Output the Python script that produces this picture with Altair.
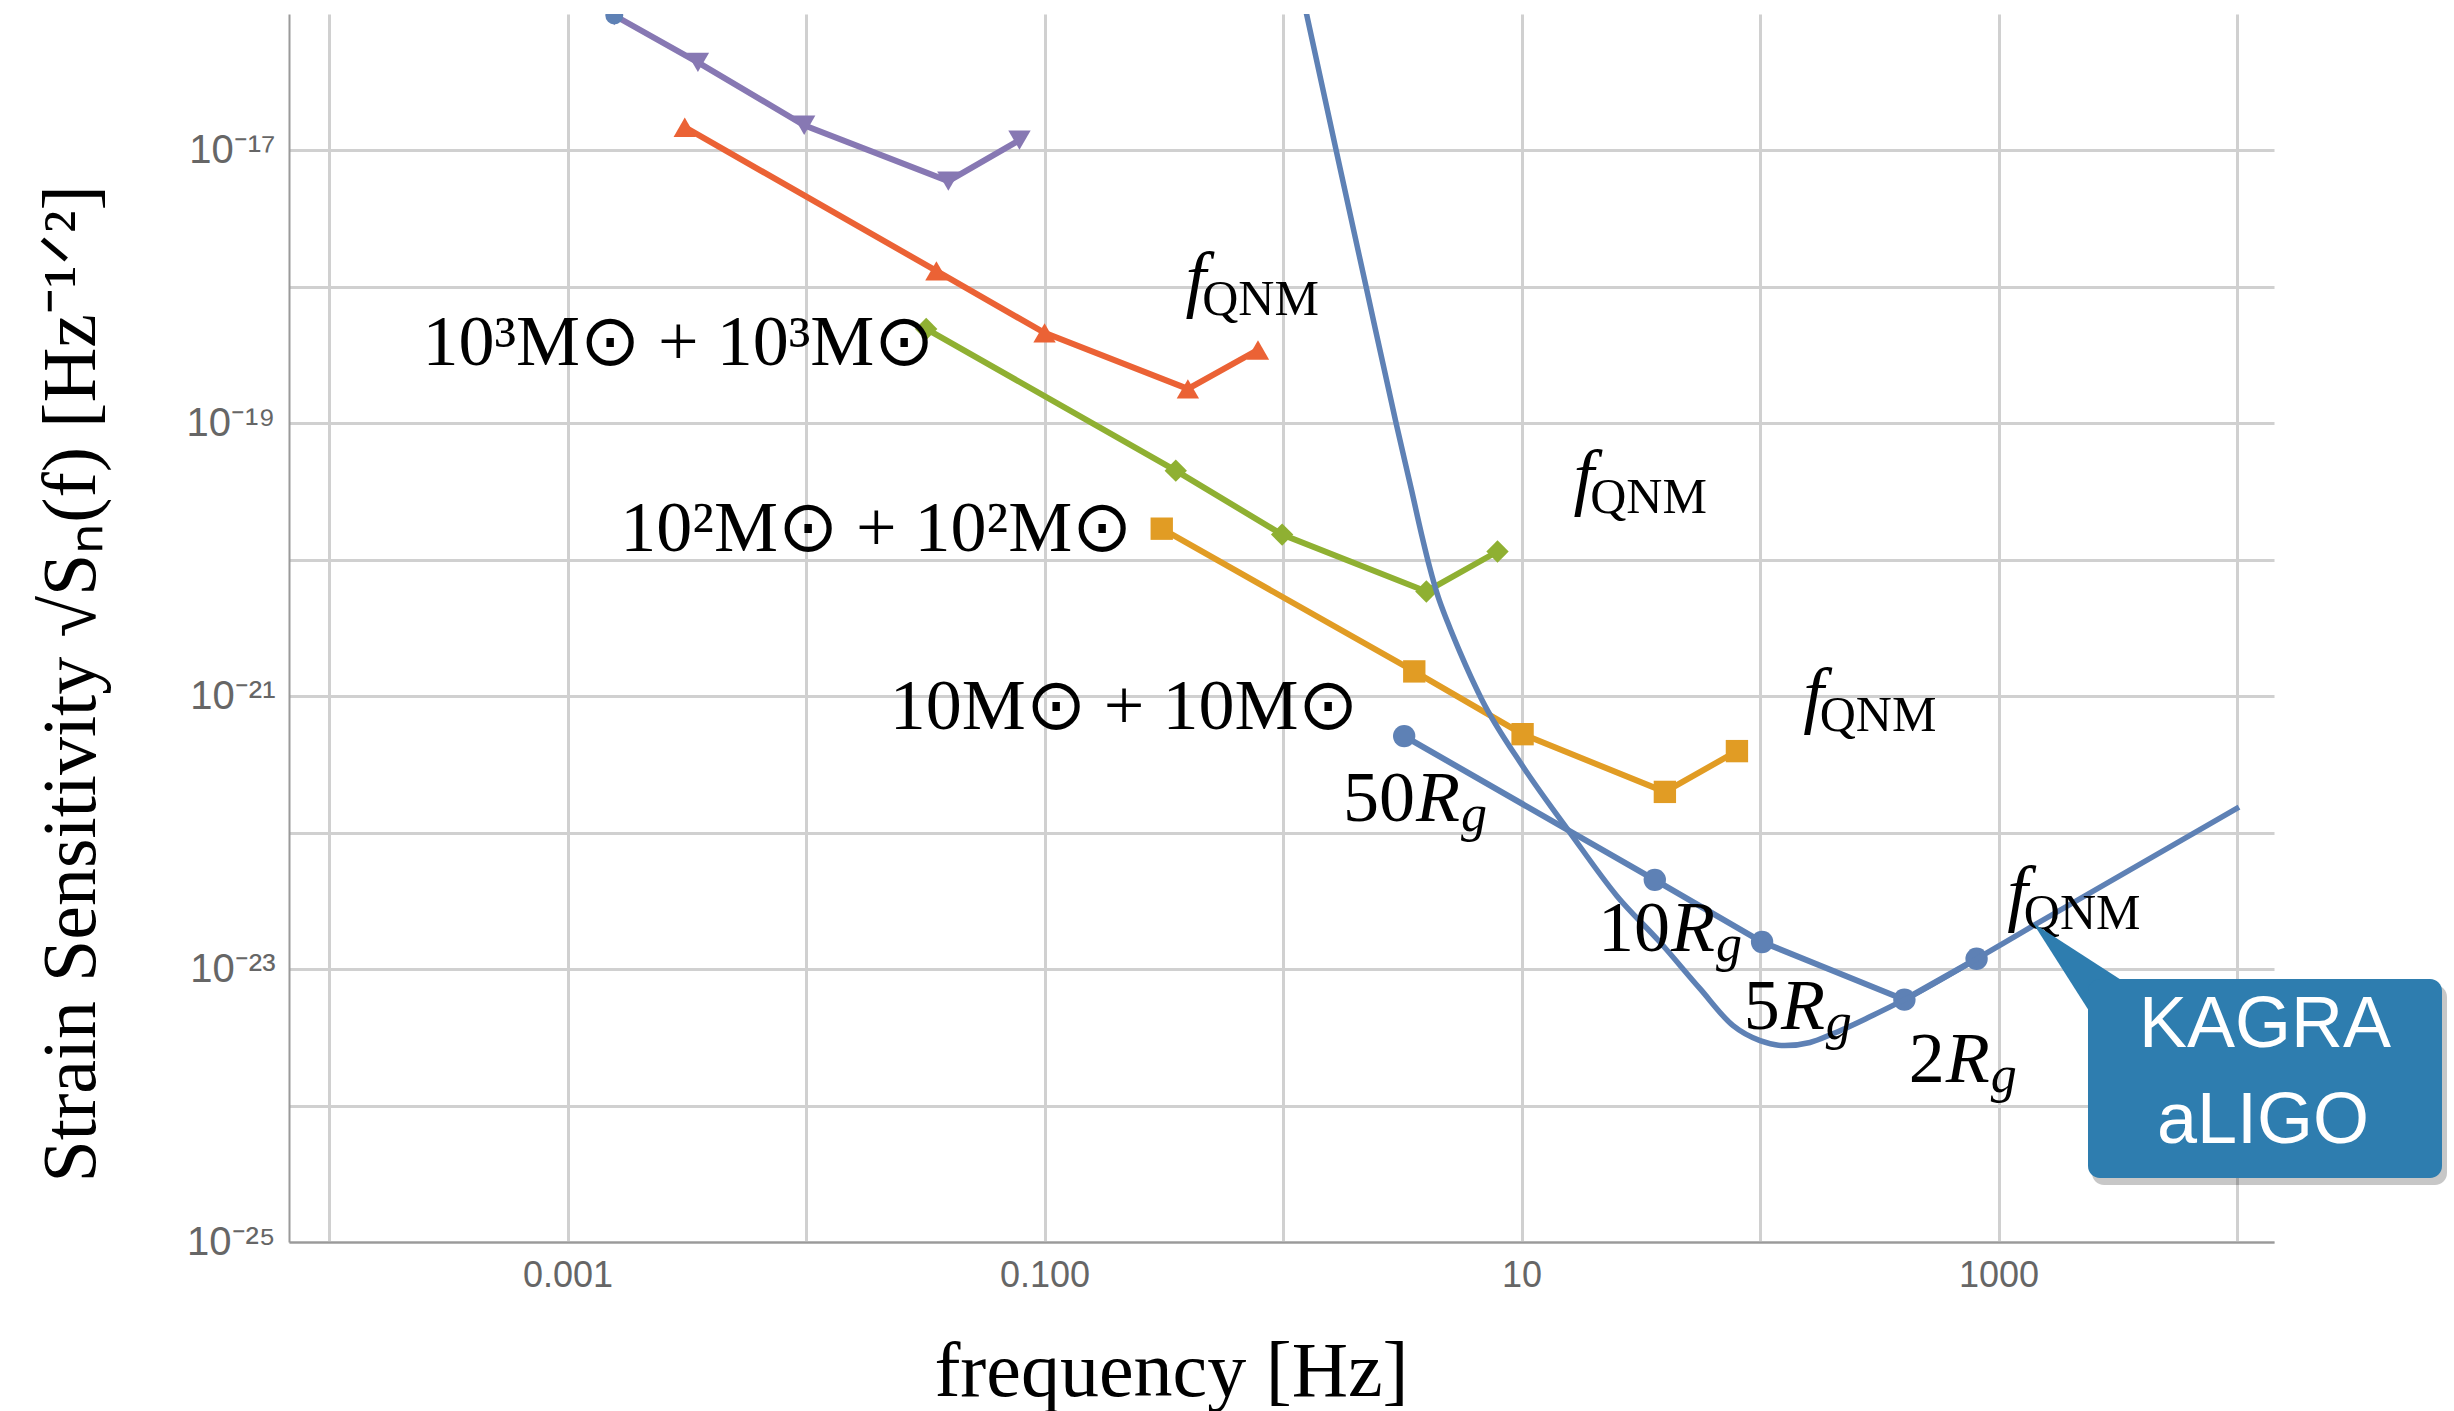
import altair as alt
import pandas as pd

# ---------------- data ----------------
X_DOMAIN = [10 ** -4.168, 10 ** 4.155]
Y_DOMAIN = [1e-25, 1e-16]

series_names = ["m5", "m4", "m3", "m2", "m1"]
series_colors = ["#8778B3", "#EB6235", "#8FB032", "#E19C24", "#5E81B5"]
series_shapes = ["triangle-down", "triangle-up", "diamond", "square", "circle"]
series_sizes = [500, 500, 700, 260, 320]

purple_f = [1.57e-3, 3.52e-3, 9.82e-3, 0.0395, 0.0785]
purple_h = [9.75e-17, 4.42e-17, 1.53e-17, 5.96e-18, 1.19e-17]
red_f = [3.10e-3, 0.0352, 0.100, 0.399, 0.785]
red_h = [1.48e-17, 1.31e-18, 4.60e-19, 1.79e-19, 3.45e-19]
green_f = [0.0319, 0.355, 0.991, 3.99, 7.93]
green_h = [4.92e-19, 4.50e-20, 1.53e-20, 5.86e-21, 1.15e-20]
orange_f = [0.310, 3.55, 10.1, 39.9, 80.0]
orange_h = [1.69e-20, 1.52e-21, 5.27e-22, 1.99e-22, 3.96e-22]
blue_f = [3.22, 36.2, 102.0, 403.0, 809.0]
blue_h = [5.10e-22, 4.51e-23, 1.58e-23, 5.97e-24, 1.19e-23]

stray_f = [1.57e-3]
stray_h = [9.75e-17]

curve_f = [1.25, 1.67, 2.23, 2.98, 3.46, 3.81, 4.12, 4.45, 4.90, 5.50, 6.80,
           10.1, 15.9, 25.1, 38.0, 56.0, 77.1, 100.0, 127.0, 162.0, 203.0, 290.0,
           403.0, 809.0, 1285.0, 10190.0]
curve_h = [1.03e-16, 1.0e-17, 1.0e-18, 1.0e-19, 3.22e-20, 1.53e-20, 8.79e-21, 5.48e-21,
           3.48e-21, 2.13e-21, 9.51e-22,
           3.08e-22, 1.01e-22, 3.44e-23, 1.58e-23, 7.19e-24, 3.85e-24, 2.99e-24,
           2.75e-24, 2.90e-24, 3.37e-24, 4.49e-24, 5.97e-24, 1.19e-23, 1.91e-23, 1.54e-22]

mass_labels = ["10³M⊙ + 10³M⊙", "10²M⊙ + 10²M⊙", "10M⊙ + 10M⊙"]
mass_f = [0.0345, 0.233, 2.07]
mass_h = [2.67e-19, 1.16e-20, 5.77e-22]

qnm_f = [0.458, 19.4, 178.0, 1276.0]
qnm_h = [7.59e-19, 2.69e-20, 6.84e-22, 2.39e-23]

rg_labels = ["50", "10", "5", "2"]
rg_f = [5.52, 64.7, 187.0, 918.0]
rg_h = [1.21e-22, 1.35e-23, 3.61e-24, 1.48e-24]

x_tick_values = [1e-4, 1e-3, 1e-2, 1e-1, 1e0, 1e1, 1e2, 1e3, 1e4]
y_tick_values = [1e-25, 1e-24, 1e-23, 1e-22, 1e-21, 1e-20, 1e-19, 1e-18, 1e-17]

# ---------------- tables ----------------
rows = []
for name, fs, hs in zip(series_names,
                        [purple_f, red_f, green_f, orange_f, blue_f],
                        [purple_h, red_h, green_h, orange_h, blue_h]):
    for i, (f, h) in enumerate(zip(fs, hs)):
        rows.append({"series": name, "f": f, "h": h, "i": i})
pts = pd.DataFrame(rows)
curve = pd.DataFrame({"f": curve_f, "h": curve_h})
stray = pd.DataFrame({"f": stray_f, "h": stray_h})
mass = pd.DataFrame({"f": mass_f, "h": mass_h, "label": mass_labels})
qnm = pd.DataFrame({"f": qnm_f, "h": qnm_h})
rg = pd.DataFrame({"f": rg_f, "h": rg_h, "label": rg_labels})

E = "round(log(datum.value)/LN10)"
x_label_expr = (f"{E} == -3 ? '0.001' : {E} == -1 ? '0.100' : "
                f"{E} == 1 ? '10' : {E} == 3 ? '1000' : ''")
y_label_expr = (f"{E} == -17 ? '10⁻¹⁷' : {E} == -19 ? '10⁻¹⁹' : "
                f"{E} == -21 ? '10⁻²¹' : {E} == -23 ? '10⁻²³' : "
                f"{E} == -25 ? '10⁻²⁵' : ''")

common_axis = dict(grid=True, gridColor="#d0d0d0", gridWidth=3, domainColor="#9a9a9a",
                   domainWidth=2, ticks=False, labelColor="#666666",
                   labelFont="Liberation Sans", labelOverlap=False,
                   labelFlush=False, titleFont="Liberation Serif", titleFontWeight="normal",
                   titleColor="black")

xaxis = alt.Axis(values=x_tick_values, labelExpr=x_label_expr, labelPadding=16,
                 labelFontSize=36,
                 title="frequency [Hz]", titleFontSize=78, titleX=882, titleY=153,
                 titleAlign="center", titleBaseline="alphabetic", **common_axis)
yaxis = alt.Axis(values=y_tick_values, labelExpr=y_label_expr, labelPadding=14,
                 labelFontSize=40,
                 title="Strain Sensitivity    √Sₙ(f)  [Hz⁻¹ᐟ²]", titleFontSize=76,
                 titleAngle=270, titleX=-195, titleY=1168, titleAlign="left",
                 titleBaseline="alphabetic", **common_axis)

xenc = alt.X("f:Q", scale=alt.Scale(type="log", domain=X_DOMAIN, nice=False), axis=xaxis)
yenc = alt.Y("h:Q", scale=alt.Scale(type="log", domain=Y_DOMAIN, nice=False), axis=yaxis)

color_enc = alt.Color("series:N", scale=alt.Scale(domain=series_names, range=series_colors),
                      legend=None)

lines = alt.Chart(pts).mark_line(strokeWidth=6, clip=True).encode(
    x=xenc, y=yenc, color=color_enc, detail="series:N", order="i:Q")

points = alt.Chart(pts).mark_point(filled=True, opacity=1, clip=True).encode(
    x=xenc, y=yenc, color=color_enc,
    shape=alt.Shape("series:N", scale=alt.Scale(domain=series_names, range=series_shapes),
                    legend=None),
    size=alt.Size("series:N", scale=alt.Scale(domain=series_names, range=series_sizes),
                  legend=None))

stray_pt = alt.Chart(stray).mark_point(filled=True, opacity=1, shape="circle", size=320,
                                       color="#5E81B5", clip=True).encode(x=xenc, y=yenc)

curve_line = alt.Chart(curve).mark_line(strokeWidth=5.5, color="#5E81B5", clip=True,
                                        interpolate="monotone").encode(x=xenc, y=yenc)

serif = "Liberation Serif"
mass_text = alt.Chart(mass).mark_text(align="right", baseline="alphabetic", font=serif,
                                      fontSize=72, color="black").encode(
    x=xenc, y=yenc, text="label:N")

qnm_f_text = alt.Chart(qnm).mark_text(align="right", baseline="alphabetic", font=serif,
                                      fontStyle="italic", fontSize=74, color="black",
                                      dx=4).encode(x=xenc, y=yenc, text=alt.value("f"))
qnm_sub = alt.Chart(qnm).mark_text(align="left", baseline="alphabetic", font=serif,
                                   fontSize=50, color="black", dy=12).encode(
    x=xenc, y=yenc, text=alt.value("QNM"))

rg_num = alt.Chart(rg).mark_text(align="right", baseline="alphabetic", font=serif,
                                 fontSize=72, color="black", dx=-45).encode(
    x=xenc, y=yenc, text="label:N")
rg_R = alt.Chart(rg).mark_text(align="right", baseline="alphabetic", font=serif,
                               fontStyle="italic", fontSize=72, color="black").encode(
    x=xenc, y=yenc, text=alt.value("R"))
rg_g = alt.Chart(rg).mark_text(align="left", baseline="alphabetic", font=serif,
                               fontStyle="italic", fontSize=52, color="black", dx=1,
                               dy=10).encode(x=xenc, y=yenc, text=alt.value("g"))

# ---------------- callout box ----------------
one = pd.DataFrame({"k": [0]})
BOX = "#2E7DAF"
pointer_path = "M0,0L1.13,0.73L0.72,1.13Z"
shadow_box = alt.Chart(one).mark_rect(cornerRadius=12, color="#000000", opacity=0.22).encode(
    x=alt.value(1803), x2=alt.value(2158), y=alt.value(971), y2=alt.value(1171))
box = alt.Chart(one).mark_rect(cornerRadius=12, color=BOX).encode(
    x=alt.value(1799), x2=alt.value(2153), y=alt.value(965), y2=alt.value(1164))
pointer = alt.Chart(one).mark_point(shape=pointer_path, size=40000, filled=True, opacity=1,
                                    color=BOX, strokeWidth=0).encode(
    x=alt.value(1744), y=alt.value(909))
kagra = alt.Chart(one).mark_text(font="Liberation Sans", fontSize=72, color="white",
                                 align="center", baseline="alphabetic").encode(
    x=alt.value(1976), y=alt.value(1033), text=alt.value("KAGRA"))
aligo = alt.Chart(one).mark_text(font="Liberation Sans", fontSize=72, color="white",
                                 align="center", baseline="alphabetic").encode(
    x=alt.value(1974), y=alt.value(1129), text=alt.value("aLIGO"))

chart = alt.layer(
    lines, points, stray_pt, curve_line,
    mass_text, qnm_f_text, qnm_sub, rg_num, rg_R, rg_g,
    shadow_box, pointer, box, kagra, aligo,
).properties(
    width=1985, height=1228,
    autosize=alt.AutoSizeParams(type="none"),
    padding={"left": 289, "top": 14, "right": 180, "bottom": 169},
    background="white",
).configure_view(stroke=None)

chart.save("out.html", embed_options={"renderer": "svg", "actions": False})
